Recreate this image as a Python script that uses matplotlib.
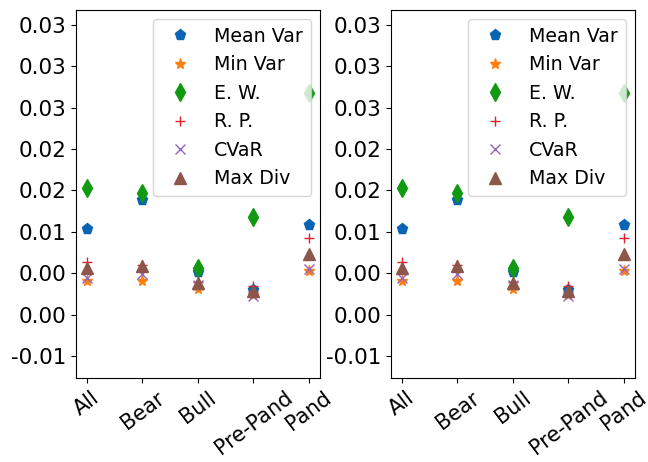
import numpy as np
import matplotlib
matplotlib.use('Agg')
import matplotlib.pyplot as plt
from matplotlib.ticker import FixedLocator, FixedFormatter


### Data

periods = ['All', 'Bear', 'Bull', 'Pre-Pand', 'Pand']

mean_var = [0.0104, 0.0139, 0.0052, 0.0030, 0.0108]
min_var = [0.0041, 0.0041, 0.0031, 0.0024, 0.0053]
equal_weight = [0.0153, 0.0147, 0.0057, 0.0118, 0.0268]
risk_parity = [0.0064, 0.0060, 0.0040, 0.0035, 0.0093]
cvar = [0.0045, 0.0049, 0.0036, 0.0023, 0.0055]
max_div = [0.0057, 0.0059, 0.0039, 0.0029, 0.0074]

series_labels = ['Mean Var', 'Min Var', 'E. W.', 'R. P.', 'CVaR', 'Max Div']

y_ticks = [-0.005, 0.0, 0.005, 0.010, 0.015, 0.020, 0.025, 0.030, 0.035]
y_tick_labels = ['-0.01', '0.00', '0.00', '0.01', '0.02', '0.02', '0.03', '0.03', '0.03']


### Plot

def draw_panel(axs):
   x = np.arange(len(periods))
   all_series = [mean_var, min_var, equal_weight, risk_parity, cvar, max_div]
   markers = ['p', '*', 'd', '+', 'x', '^']
   colors = ['#0a64b4', '#ff7f0e', '#119a11', '#e0202a', '#9467bd', '#8c564b']
   sizes = [8, 8, 9, 7, 7, 8]
   for values, marker, color, size, label in zip(all_series, markers, colors, sizes, series_labels):
      axs.plot(x, values, linestyle = '', marker = marker, color = color, markersize = size, label = label)
   axs.set_xlim(-0.2, 4.2)
   axs.set_ylim(-0.0076, 0.0368)
   axs.set_xticks(x)
   axs.set_xticklabels(periods, rotation = 37, fontsize = 15)
   axs.yaxis.set_major_locator(FixedLocator(y_ticks))
   axs.yaxis.set_major_formatter(FixedFormatter(y_tick_labels))
   axs.tick_params(axis = 'y', labelsize = 15.5)
   axs.legend(loc = 'upper right', fontsize = 13.7)
   return


fig = plt.figure(figsize = (6.48, 4.62), dpi = 100)
ax_left = fig.add_axes([0.117, 0.182, 0.377, 0.797])
ax_right = fig.add_axes([0.603, 0.182, 0.377, 0.797])
draw_panel(ax_left)
draw_panel(ax_right)
plt.savefig('out.png', dpi = 100)
plt.close()
